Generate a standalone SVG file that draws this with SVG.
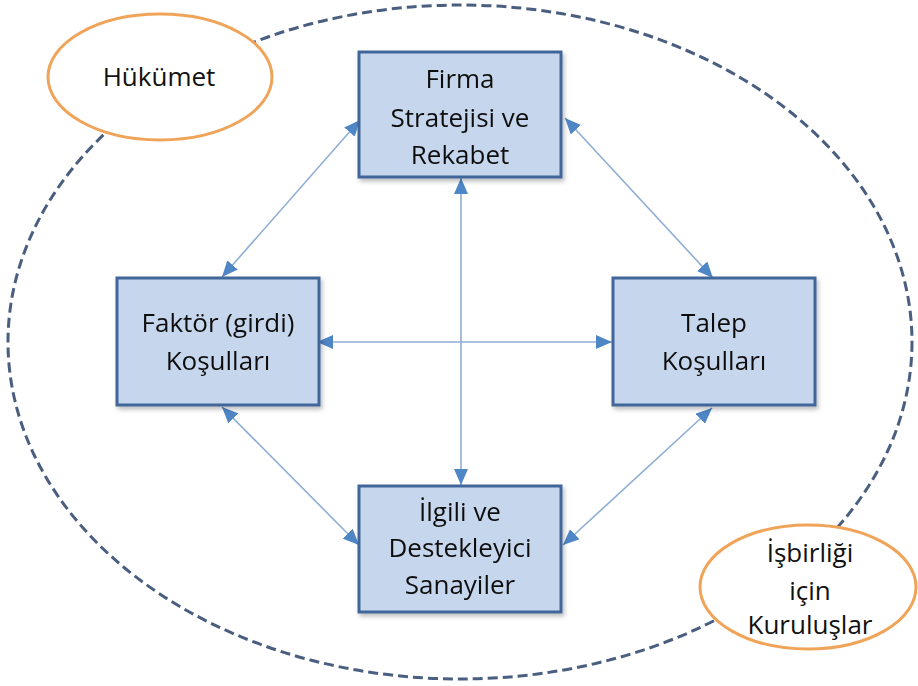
<svg xmlns="http://www.w3.org/2000/svg" width="918" height="686" viewBox="0 0 918 686">
<style>
.box{fill:#c6d6ec;stroke:#41669a;stroke-width:3}
.oval{fill:#ffffff;stroke:#f0a45a;stroke-width:3}
.txt{font-family:"Open Sans","Liberation Sans",sans-serif;font-size:26px;fill:#111111;text-anchor:middle}
.conn{stroke:#8eaed4;stroke-width:1.6;fill:none;marker-start:url(#ah);marker-end:url(#ah)}
</style>
<defs>
<marker id="ah" viewBox="0 0 16 14" refX="16" refY="7" markerWidth="16" markerHeight="14" markerUnits="userSpaceOnUse" orient="auto-start-reverse">
<path d="M0,0 L16,7 L0,14 Z" fill="#4f86c6"/>
</marker>
<filter id="sh" x="-10%" y="-10%" width="120%" height="120%">
<feDropShadow dx="2" dy="3" stdDeviation="2" flood-color="#000" flood-opacity="0.25"/>
</filter>
</defs>
<rect width="918" height="686" fill="#ffffff"/>
<ellipse id="outer" cx="460" cy="342" rx="452" ry="337" fill="none" stroke="#4a5f80" stroke-width="3" stroke-dasharray="10,5"/>
<g id="connectors">
<line class="conn" x1="222" y1="277" x2="360" y2="120"/>
<line class="conn" x1="565" y1="118" x2="713" y2="278"/>
<line class="conn" x1="317" y1="342" x2="612" y2="342"/>
<line class="conn" x1="461" y1="178" x2="461" y2="485"/>
<line class="conn" x1="222" y1="407" x2="359" y2="545"/>
<line class="conn" x1="712" y1="408" x2="563" y2="545"/>
</g>
<g id="firma" filter="url(#sh)">
<rect class="box" x="359" y="52" width="202" height="125"/>
<text class="txt" x="460" y="88">Firma</text>
<text class="txt" x="460" y="127">Stratejisi ve</text>
<text class="txt" x="460" y="164">Rekabet</text>
</g>
<g id="faktor" filter="url(#sh)">
<rect class="box" x="117" y="278" width="202" height="127"/>
<text class="txt" x="218" y="332">Faktör (girdi)</text>
<text class="txt" x="218" y="370">Koşulları</text>
</g>
<g id="talep" filter="url(#sh)">
<rect class="box" x="613" y="278" width="202" height="127"/>
<text class="txt" x="714" y="332">Talep</text>
<text class="txt" x="714" y="370">Koşulları</text>
</g>
<g id="ilgili" filter="url(#sh)">
<rect class="box" x="359" y="486" width="202" height="126"/>
<text class="txt" x="460" y="521">İlgili ve</text>
<text class="txt" x="460" y="557">Destekleyici</text>
<text class="txt" x="460" y="594">Sanayiler</text>
</g>
<g id="hukumet">
<ellipse class="oval" cx="160" cy="77" rx="112" ry="63"/>
<text class="txt" x="159" y="86">Hükümet</text>
</g>
<g id="isbirligi">
<ellipse class="oval" cx="808" cy="587" rx="108" ry="62"/>
<text class="txt" x="810" y="562">İşbirliği</text>
<text class="txt" x="810" y="600">için</text>
<text class="txt" x="810" y="634">Kuruluşlar</text>
</g>
</svg>
